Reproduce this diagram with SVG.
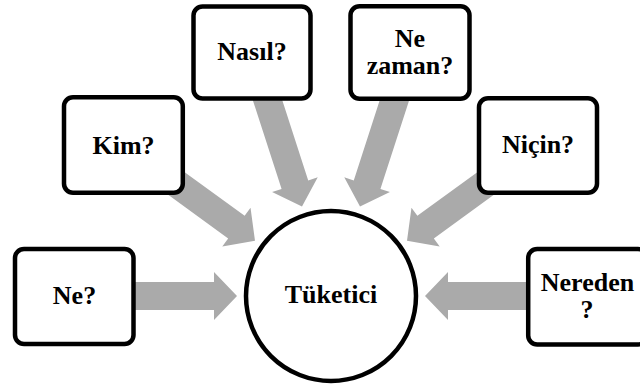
<svg xmlns="http://www.w3.org/2000/svg" width="640" height="389" viewBox="0 0 640 389">
<defs>
<style>
.box{fill:#ffffff;stroke:#000000;stroke-width:4.5}
.circ{fill:#ffffff;stroke:#000000;stroke-width:4.5}
.lbl{font-family:"Liberation Serif","Times New Roman",serif;font-weight:bold;font-size:26px;fill:#000000;text-anchor:middle}
.arr{fill:#aaaaaa}
</style>
<polygon id="arrow" points="-118,-14 -23,-14 -23,-24 0,0 -23,24 -23,14 -118,14"/>
</defs>
<rect width="640" height="389" fill="#ffffff"/>
<g id="connectors" class="arr">
<use href="#arrow" transform="translate(237,296)"/>
<use href="#arrow" transform="translate(425,296) rotate(180)"/>
<use href="#arrow" transform="translate(255,240.7) rotate(36.04)"/>
<use href="#arrow" transform="translate(407,240.7) rotate(143.96)"/>
<use href="#arrow" transform="translate(302,206.6) rotate(72.06)"/>
<use href="#arrow" transform="translate(360,206.6) rotate(107.94)"/>
</g>
<g id="node-ne">
<rect class="box" x="15" y="249" width="118.5" height="95" rx="9"/>
<text class="lbl" x="74.5" y="304">Ne?</text>
</g>
<g id="node-kim">
<rect class="box" x="64" y="97.2" width="118.8" height="95.6" rx="9"/>
<text class="lbl" x="123.5" y="154">Kim?</text>
</g>
<g id="node-nasil">
<rect class="box" x="193.5" y="6.5" width="117" height="92" rx="9"/>
<text class="lbl" x="252" y="60">Nasıl?</text>
</g>
<g id="node-nezaman">
<rect class="box" x="350.5" y="6.2" width="119" height="92.5" rx="9"/>
<text class="lbl" x="410" y="46.5">Ne</text>
<text class="lbl" x="410" y="74">zaman?</text>
</g>
<g id="node-nicin">
<rect class="box" x="479" y="98.2" width="118" height="94.6" rx="9"/>
<text class="lbl" x="538" y="153.3">Niçin?</text>
</g>
<g id="node-nereden">
<rect class="box" x="528.2" y="249" width="118.8" height="95.5" rx="9"/>
<text class="lbl" x="587.5" y="290.5">Nereden</text>
<text class="lbl" x="587" y="317.5">?</text>
</g>
<g id="node-tuketici">
<circle class="circ" cx="331" cy="296" r="85"/>
<text class="lbl" x="331" y="303">Tüketici</text>
</g>
</svg>
